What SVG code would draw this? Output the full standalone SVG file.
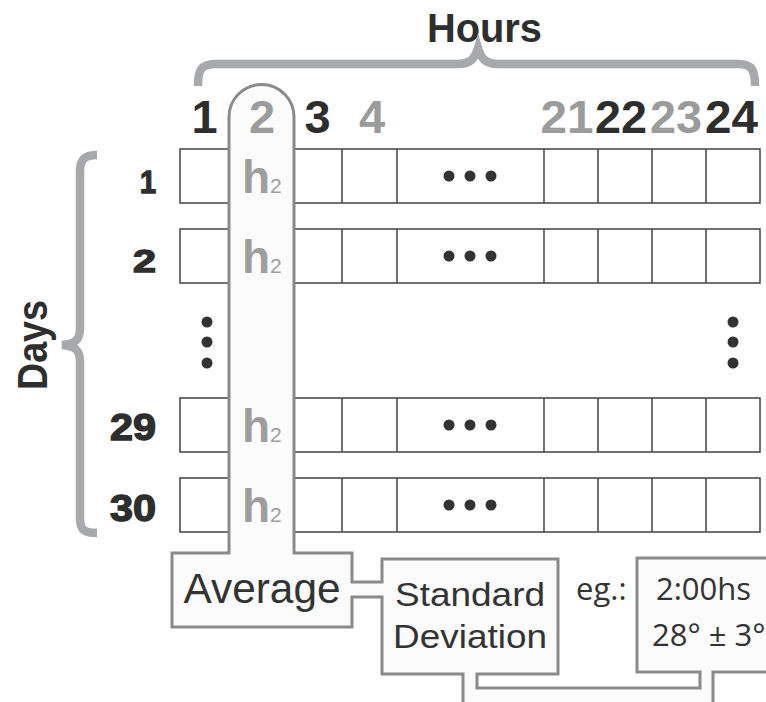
<svg xmlns="http://www.w3.org/2000/svg" width="766" height="702" viewBox="0 0 766 702">
<style>
.brace{fill:none;stroke:#a7a9ac;stroke-width:8.5;stroke-linecap:butt}
.cell{fill:#fff;stroke:#4d4d4d;stroke-width:1.6}
.sep{stroke:#4d4d4d;stroke-width:1.6}
.hdr{font-family:"Liberation Sans",Arial,sans-serif;font-weight:bold;text-anchor:middle}
.dk{fill:#2e2e2e}
.gy{fill:#9b9b9b}
.day{font-family:"Liberation Sans",Arial,sans-serif;font-weight:bold;text-anchor:end;fill:#2e2e2e;stroke:#2e2e2e;stroke-width:1.4}
.h2{font-family:"Liberation Sans",Arial,sans-serif;fill:#9e9e9e}
.outline{fill:#fbfbfb;stroke:#8a8a8a;stroke-width:3;stroke-linejoin:miter}
.lbl{font-family:"Liberation Sans",Arial,sans-serif;fill:#333;text-anchor:middle}
.eg{font-family:"Open Sans","Liberation Sans",sans-serif;fill:#333}
.dot{fill:#333}
</style>
<defs>
<g id="row">
<rect class="cell" x="180" y="0" width="580" height="54"/>
<line class="sep" x1="342" y1="0" x2="342" y2="54"/>
<line class="sep" x1="397" y1="0" x2="397" y2="54"/>
<line class="sep" x1="544" y1="0" x2="544" y2="54"/>
<line class="sep" x1="598" y1="0" x2="598" y2="54"/>
<line class="sep" x1="652" y1="0" x2="652" y2="54"/>
<line class="sep" x1="706" y1="0" x2="706" y2="54"/>
<circle class="dot" cx="449" cy="27" r="5.5"/>
<circle class="dot" cx="470" cy="27" r="5.5"/>
<circle class="dot" cx="491" cy="27" r="5.5"/>
</g>
</defs>

<g id="hours-axis">
<text class="hdr dk" x="484.5" y="42" font-size="40" textLength="115" lengthAdjust="spacingAndGlyphs">Hours</text>
<path class="brace" d="M198,86 C198,70 201,64 216,64 L458,64 C471,64 475,58 478,48 C481,58 485,64 498,64 L738,64 C752,64 755,70 755,86"/>
<g font-size="47">
<text class="hdr dk" x="204.5" y="133">1</text>
<text class="hdr dk" x="317.5" y="133">3</text>
<text class="hdr gy" x="372" y="133">4</text>
<text class="hdr gy" x="567" y="133" textLength="53" lengthAdjust="spacingAndGlyphs">21</text>
<text class="hdr dk" x="621" y="133" textLength="52" lengthAdjust="spacingAndGlyphs">22</text>
<text class="hdr gy" x="676" y="133" textLength="52" lengthAdjust="spacingAndGlyphs">23</text>
<text class="hdr dk" x="731.5" y="133" textLength="53" lengthAdjust="spacingAndGlyphs">24</text>
</g>
</g>

<g id="days-axis">
<text class="hdr dk" transform="translate(47,345) rotate(-90)" font-size="42" textLength="90" lengthAdjust="spacingAndGlyphs">Days</text>
<path class="brace" d="M97,155 C84,155 80,160 80,172 L80,328 C80,340 75,344 62,345 C75,346 80,350 80,362 L80,518 C80,530 84,533 97,533"/>
<text class="day" x="156" y="193" font-size="31" textLength="16" lengthAdjust="spacingAndGlyphs">1</text>
<text class="day" x="156" y="272" font-size="32" textLength="23" lengthAdjust="spacingAndGlyphs">2</text>
<text class="day" x="156" y="440" font-size="37" textLength="46" lengthAdjust="spacingAndGlyphs">29</text>
<text class="day" x="156" y="521" font-size="37" textLength="46" lengthAdjust="spacingAndGlyphs">30</text>
<circle class="dot" cx="207" cy="322" r="5.5"/>
<circle class="dot" cx="207" cy="342" r="5.5"/>
<circle class="dot" cx="207" cy="363" r="5.5"/>
<circle class="dot" cx="733" cy="322" r="5.5"/>
<circle class="dot" cx="733" cy="342" r="5.5"/>
<circle class="dot" cx="733" cy="363" r="5.5"/>
</g>

<g id="grid">
<use href="#row" y="149"/>
<use href="#row" y="229"/>
<use href="#row" y="398"/>
<use href="#row" y="478"/>
</g>

<g id="connectors">
<path class="outline" d="M229,117 A32.5,32.5 0 0 1 294,117 L294,553 L352,553 L352,582 L382,582 L382,559 L558,559 L558,674 L477,674 L477,688 L700,688 L700,672 L637,672 L637,558 L800,558 L800,672 L713,672 L713,740 L463,740 L463,674 L382,674 L382,597 L352,597 L352,627 L172,627 L172,553 L229,553 Z"/>
</g>

<g id="hour2-column">
<text class="hdr gy" x="262" y="133" font-size="47">2</text>
<g class="h2">
<text x="242" y="193" font-size="46" font-weight="bold">h<tspan font-size="21" font-weight="normal">2</tspan></text>
<text x="242" y="273" font-size="46" font-weight="bold">h<tspan font-size="21" font-weight="normal">2</tspan></text>
<text x="242" y="442" font-size="46" font-weight="bold">h<tspan font-size="21" font-weight="normal">2</tspan></text>
<text x="242" y="522" font-size="46" font-weight="bold">h<tspan font-size="21" font-weight="normal">2</tspan></text>
</g>
</g>

<g id="average">
<text class="lbl" x="262" y="603" font-size="42" textLength="157" lengthAdjust="spacingAndGlyphs">Average</text>
</g>

<g id="standard-deviation">
<text class="lbl" x="470" y="606" font-size="34" textLength="150" lengthAdjust="spacingAndGlyphs">Standard</text>
<text class="lbl" x="470" y="648" font-size="34" textLength="154" lengthAdjust="spacingAndGlyphs">Deviation</text>
</g>

<g id="example">
<text class="eg" x="576" y="600" font-size="31">eg.:</text>
<text class="eg" x="656" y="600" font-size="31">2:00hs</text>
<text class="eg" x="652" y="646" font-size="31">28° ± 3°</text>
</g>
</svg>
